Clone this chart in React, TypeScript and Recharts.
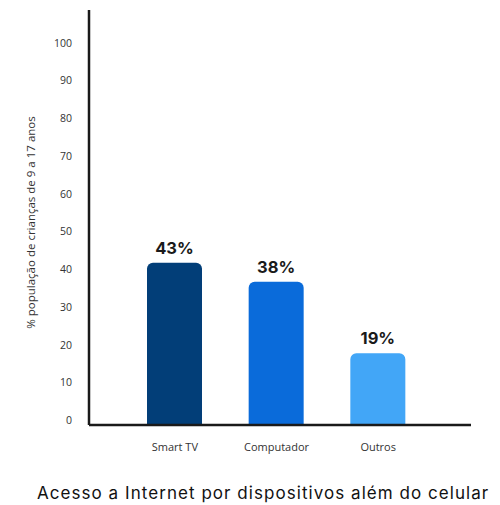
import React from "react";
import { BarChart, Bar, XAxis, YAxis, Cell, LabelList } from "recharts";

const categories = ["Smart TV", "Computador", "Outros"];
const values = [43, 38, 19];
const barColors = ["#023E78", "#0A6BDA", "#42A6F7"];
const yTicks = [0, 10, 20, 30, 40, 50, 60, 70, 80, 90, 100];
const yLabel = "% população de crianças de 9 a 17 anos";
const title = "Acesso a Internet por dispositivos além do celular";

const data = categories.map((name, i) => ({ name, value: values[i] }));

const YTick = (props: any) => {
  const { x, y, payload } = props;
  return (
    <text x={x - 9} y={y - 5} dy={4} textAnchor="end" fontSize={10.5} fill="#333333" fontFamily="'Open Sans', sans-serif">
      {payload.value}
    </text>
  );
};

const XTick = (props: any) => {
  const { x, y, payload } = props;
  return (
    <text x={x} y={y + 14} dy={4} textAnchor="middle" fontSize={11} fill="#333333" fontFamily="'Open Sans', sans-serif">
      {payload.value}
    </text>
  );
};

export default function App() {
  return (
    <div style={{ position: "absolute", left: 0, top: 0, width: 500, height: 505, overflow: "hidden", background: "#fff" }}>
      <BarChart width={500} height={505} data={data} margin={{ top: 10, right: 29, bottom: 0, left: 0 }}>
        <YAxis
          width={89}
          domain={[0, 110]}
          ticks={yTicks}
          interval={0}
          tickLine={false}
          axisLine={{ stroke: "#1a1a1a", strokeWidth: 2.5 }}
          tick={<YTick />}
          label={{ value: yLabel, angle: -90, position: "insideLeft", offset: 31, dy: 5, style: { textAnchor: "middle", fontSize: 11.5, fill: "#333333", fontFamily: "'Open Sans', sans-serif" } }}
        />
        <XAxis
          dataKey="name"
          height={80}
          padding={{ left: 35, right: 42 }}
          tickLine={false}
          axisLine={{ stroke: "#1a1a1a", strokeWidth: 2.5 }}
          tick={<XTick />}
          interval={0}
        />
        <Bar dataKey="value" barSize={55} radius={[6, 6, 0, 0]} isAnimationActive={false}>
          {data.map((d, i) => (
            <Cell key={d.name} fill={barColors[i]} />
          ))}
          <LabelList
            dataKey="value"
            position="top"
            offset={9}
            formatter={(v: any) => `${v}%`}
            style={{ fontSize: 16.5, fontWeight: 700, fill: "#1a1a1a", fontFamily: "Inter, sans-serif" }}
          />
        </Bar>
      </BarChart>
      <div
        style={{
          position: "absolute",
          left: 37,
          top: 483,
          whiteSpace: "nowrap",
          fontSize: 17,
          letterSpacing: 1.05,
          fontFamily: "Inter, sans-serif",
          color: "#111",
        }}
      >
        {title}
      </div>
    </div>
  );
}
